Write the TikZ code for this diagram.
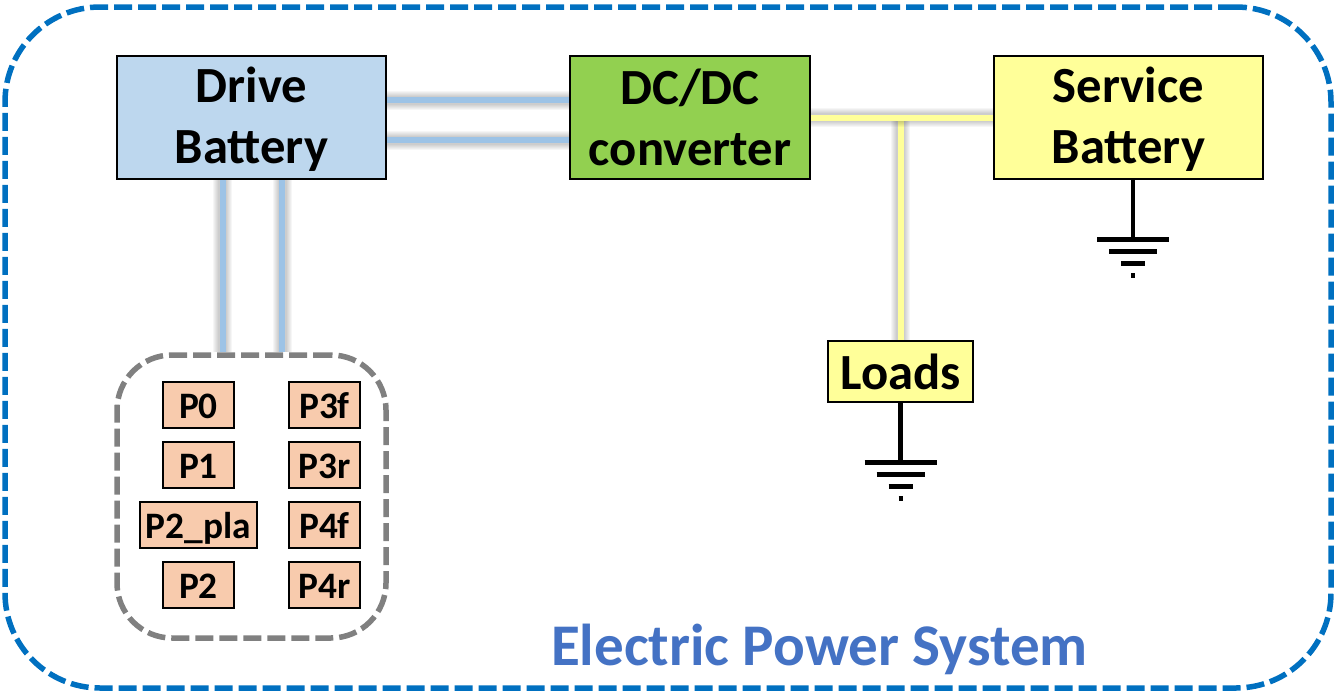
\documentclass[tikz,border=0pt]{standalone}
\usepackage{fontspec}
\setmainfont{Carlito}
\usetikzlibrary{positioning, backgrounds}
\definecolor{sysblue}{RGB}{0, 112, 192}
\definecolor{titleblue}{RGB}{68, 114, 196}
\definecolor{drivefill}{RGB}{189, 215, 238}
\definecolor{busblue}{RGB}{157, 195, 230}
\definecolor{convgreen}{RGB}{146, 208, 80}
\definecolor{servyellow}{RGB}{255, 255, 153}
\definecolor{modfill}{RGB}{248, 203, 173}
\newcommand{\px}{0.75pt}
\tikzset{
  bigbox/.style={draw, line width=2.5*\px, outer sep=0pt, align=center, font=\fontsize{38}{45.75}\selectfont\bfseries},
  modbox/.style={draw, line width=2.5*\px, fill=modfill, outer sep=0pt, minimum width=71*\px, minimum height=46*\px, inner sep=0pt, text height=21pt, text depth=1.5pt, font=\fontsize{28}{30}\selectfont\bfseries},
  busshadow/.style={line width=#1*\px, black, opacity=0.035},
  gndline/.style={line width=4.7*\px, black},
}
% one bus line: soft shadow first, colour on top
\newcommand{\busline}[2]{
  \foreach \w in {19,17,15,13,11,9} \draw[busshadow=\w] #2;
  \draw[line width=6*\px, #1] #2;
}
% ground symbol hanging from a coordinate
\newcommand{\gndsym}[1]{
  \draw[gndline] (#1) -- ++(0,60.5);
  \draw[gndline] ([xshift=-36*\px, yshift=-60.5*\px]#1) -- ++(72,0);
  \draw[gndline] ([xshift=-24*\px, yshift=-72.5*\px]#1) -- ++(48,0);
  \draw[gndline] ([xshift=-12*\px, yshift=-84.5*\px]#1) -- ++(24,0);
  \draw[gndline] ([xshift=-2*\px, yshift=-96.5*\px]#1) -- ++(4,0);
}
\begin{document}
\begin{tikzpicture}[x=0.75pt, y=-0.75pt]
  \useasboundingbox (0,0) rectangle (1339,696);

  % Outer system frame
  \node[draw=sysblue, line width=5.5*\px, dashed, dash pattern=on 18*\px off 6*\px, rounded corners=95*\px, minimum width=1326*\px, minimum height=681*\px] (system) at (668,347.5) {};
  \node[text=titleblue, font=\fontsize{44.3}{50}\selectfont\bfseries] (title) at (819.5,649) {Electric Power System};

  % Main blocks
  \node[bigbox, text depth=2.7pt, fill=drivefill, minimum width=269*\px, minimum height=123*\px] (drive) at (251.5,117.5) {Drive\\Battery};
  \node[bigbox, fill=convgreen, minimum width=240*\px, minimum height=123*\px] (conv) at (690,117.5) {DC/DC\\converter};
  \node[bigbox, text depth=2.7pt, fill=servyellow, minimum width=269*\px, minimum height=123*\px] (service) at (1128.5,117.5) {Service\\Battery};
  \node[bigbox, fill=servyellow, minimum width=145*\px, minimum height=61*\px] (loads) at (900.5,371.5) {Loads};

  % Powertrain group
  \node[draw=gray, line width=5.5*\px, dashed, dash pattern=on 18*\px off 6*\px, rounded corners=55*\px, minimum width=269*\px, minimum height=283*\px] (group) at (251.5,496.5) {};
  \node[modbox] (p0) at (198.5,405) {P0};
  \node[modbox] (p1) at (198.5,465) {P1};
  \node[modbox, minimum width=117*\px] (p2pla) at (198.5,525) {P2\_pla};
  \node[modbox] (p2) at (198.5,585) {P2};
  \node[modbox] (p3f) at (324.5,405) {P3f};
  \node[modbox] (p3r) at (324.5,465) {P3r};
  \node[modbox] (p4f) at (324.5,525) {P4f};
  \node[modbox] (p4r) at (324.5,585) {P4r};

  \coordinate (busa) at (222.5,0);
  \coordinate (busb) at (282,0);
  \coordinate (junction) at (loads.north |- conv.east);
  \coordinate (servgnd) at ([xshift=4.5*\px]service.south);
  \coordinate (loadgnd) at (loads.south);

  % Connectors go under the blocks
  \begin{pgfonlayer}{background}
    \busline{busblue}{([yshift=17.5*\px]drive.east) -- ([yshift=17.5*\px]conv.west)}
    \busline{busblue}{([yshift=-22.5*\px]drive.east) -- ([yshift=-22.5*\px]conv.west)}
    \busline{busblue}{(drive.south -| busa) -- (group.north -| busa)}
    \busline{busblue}{(drive.south -| busb) -- (group.north -| busb)}
    \busline{servyellow}{(junction) -- (loads.north)}
    \busline{servyellow}{(conv.east) -- (service.west)}
  \end{pgfonlayer}

  % Grounds
  \gndsym{servgnd}
  \gndsym{loadgnd}
\end{tikzpicture}
\end{document}
